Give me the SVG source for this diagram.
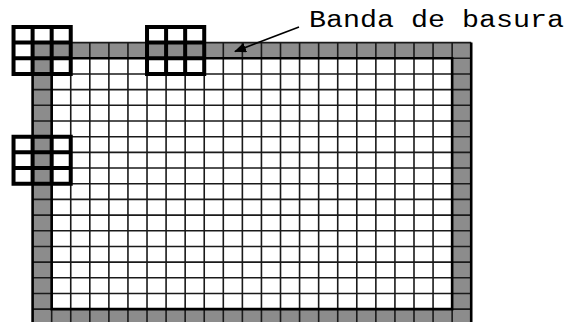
<svg xmlns="http://www.w3.org/2000/svg" width="566" height="322" viewBox="0 0 566 322">
<style>
.grid{fill:none;stroke:#1a1a1a;stroke-width:1.6}
.border{fill:none;stroke:#000;stroke-width:2.6}
.win{fill:none;stroke:#000;stroke-width:4;stroke-linecap:square}
.lbl{font-family:"Liberation Mono","Courier New",monospace;font-size:23px;fill:#000}
.conn{stroke:#000;stroke-width:1.6;fill:none}
</style>
<defs>
<marker id="ah" markerWidth="12" markerHeight="10" refX="11" refY="5" orient="auto" markerUnits="userSpaceOnUse">
<path d="M0,0 L12,5 L0,10 Z" fill="#000"/>
</marker>
</defs>
<rect width="566" height="322" fill="#fff"/>
<g id="grid">
<rect x="32.6" y="42.6" width="438.61" height="282.24" fill="#8c8c8c"/>
<rect x="51.67" y="58.28" width="400.47" height="250.88" fill="#fff"/>
<path class="grid" d="M51.67,42.6V324.84M70.74,42.6V324.84M89.81,42.6V324.84M108.88,42.6V324.84M127.95,42.6V324.84M147.02,42.6V324.84M166.09,42.6V324.84M185.16,42.6V324.84M204.23,42.6V324.84M223.3,42.6V324.84M242.37,42.6V324.84M261.44,42.6V324.84M280.51,42.6V324.84M299.58,42.6V324.84M318.65,42.6V324.84M337.72,42.6V324.84M356.79,42.6V324.84M375.86,42.6V324.84M394.93,42.6V324.84M414,42.6V324.84M433.07,42.6V324.84M452.14,42.6V324.84
M32.6,42.6H471.21M32.6,58.28H471.21M32.6,73.96H471.21M32.6,89.64H471.21M32.6,105.32H471.21M32.6,121H471.21M32.6,136.68H471.21M32.6,152.36H471.21M32.6,168.04H471.21M32.6,183.72H471.21M32.6,199.4H471.21M32.6,215.08H471.21M32.6,230.76H471.21M32.6,246.44H471.21M32.6,262.12H471.21M32.6,277.8H471.21M32.6,293.48H471.21M32.6,309.16H471.21"/>
<path class="border" d="M32.6,42.6V324.84M471.21,42.6V324.84M51.67,58.28V309.16H452.14V58.28Z"/>
</g>
<g id="window1">
<path class="win" d="M13.53,26.92H70.74V73.96H13.53ZM32.6,26.92V73.96M51.67,26.92V73.96M13.53,42.6H70.74M13.53,58.28H70.74"/>
</g>
<g id="window2">
<path class="win" d="M147.02,26.92H204.23V73.96H147.02ZM166.09,26.92V73.96M185.16,26.92V73.96M147.02,42.6H204.23M147.02,58.28H204.23"/>
</g>
<g id="window3">
<path class="win" d="M13.53,136.68H70.74V183.72H13.53ZM32.6,136.68V183.72M51.67,136.68V183.72M13.53,152.36H70.74M13.53,168.04H70.74"/>
</g>
<g id="label">
<text class="lbl" x="309" y="27" textLength="255" lengthAdjust="spacingAndGlyphs">Banda de basura</text>
</g>
<g id="connectors">
<line class="conn" x1="299" y1="27" x2="235" y2="51.5" marker-end="url(#ah)"/>
</g>
</svg>
